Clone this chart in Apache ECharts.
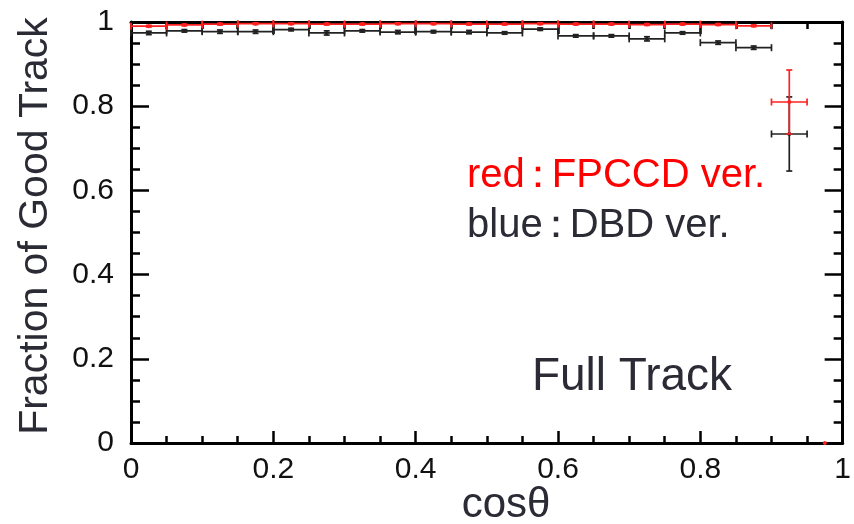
<!DOCTYPE html>
<html>
<head>
<meta charset="utf-8">
<script src="https://cdn.jsdelivr.net/npm/echarts@6/dist/echarts.min.js"></script>
<style>
html,body{margin:0;padding:0;background:#fff;}
#chart{width:854px;height:524px;}
</style>
</head>
<body>
<div id="chart"></div>
<script>
// Bin edges in cos(theta)
const binEdges = [0,0.05,0.10,0.15,0.20,0.25,0.30,0.35,0.40,0.45,0.50,0.55,0.60,0.65,0.70,0.75,0.80,0.85,0.90,0.95,1.00];
// red : FPCCD ver.
const redValues = [0.990,0.993,0.995,0.996,0.996,0.995,0.995,0.996,0.996,0.995,0.995,0.996,0.995,0.995,0.994,0.995,0.994,0.991,0.810,0.0];
const redErrors = [0.002,0.002,0.002,0.002,0.002,0.002,0.002,0.002,0.002,0.002,0.002,0.002,0.002,0.002,0.002,0.002,0.002,0.002,0.076,0.0];
// blue (drawn dark) : DBD ver.
const blackValues = [0.974,0.979,0.977,0.977,0.982,0.974,0.979,0.976,0.977,0.976,0.974,0.983,0.967,0.967,0.960,0.974,0.951,0.939,0.734,null];
const blackErrors = [0.004,0.003,0.004,0.004,0.003,0.005,0.003,0.004,0.003,0.004,0.003,0.003,0.003,0.003,0.005,0.003,0.004,0.004,0.088,null];
const xTickLabels = ['0','0.2','0.4','0.6','0.8','1'];
const yTickLabels = ['0','0.2','0.4','0.6','0.8','1'];

function buildData(vals, errs){
  const out = [];
  for (let i = 0; i < vals.length; i++) {
    if (vals[i] === null) continue;
    out.push([binEdges[i], binEdges[i+1], vals[i], errs[i]]);
  }
  return out;
}

function makeRender(color){
  return function(params, api){
    const x0 = api.value(0), x1 = api.value(1), y = api.value(2), e = api.value(3);
    const xc = (x0 + x1) / 2;
    const p0 = api.coord([x0, y]), p1 = api.coord([x1, y]), pc = api.coord([xc, y]);
    const style = {stroke: color, lineWidth: 1.7};
    const children = [];
    if (y !== 0) {
      children.push({type:'line', shape:{x1:p0[0], y1:p0[1], x2:p1[0], y2:p1[1]}, style});
      children.push({type:'line', shape:{x1:p0[0], y1:p0[1]-3.5, x2:p0[0], y2:p0[1]+3.5}, style});
      children.push({type:'line', shape:{x1:p1[0], y1:p1[1]-3.5, x2:p1[0], y2:p1[1]+3.5}, style});
      const pt = api.coord([xc, y + e]), pb = api.coord([xc, y - e]);
      children.push({type:'line', shape:{x1:pt[0], y1:pt[1], x2:pb[0], y2:pb[1]}, style});
      children.push({type:'line', shape:{x1:pt[0]-3, y1:pt[1], x2:pt[0]+3, y2:pt[1]}, style});
      children.push({type:'line', shape:{x1:pb[0]-3, y1:pb[1], x2:pb[0]+3, y2:pb[1]}, style});
    }
    children.push({type:'circle', shape:{cx:pc[0], cy:pc[1], r:2}, style:{fill: color}});
    return {type:'group', children};
  };
}

const FONT = 'Liberation Sans, Arial, sans-serif';
const axisFont = {fontFamily:FONT, fontSize:30, color:'#111'};
function axis(pos, interval, tickLen, withLine, labelFormatter, margin){
  return {
    type:'value', min:0, max:1, interval:interval, position:pos,
    axisLine: {show:withLine, onZero:false, lineStyle:{color:'#000', width:3}},
    axisTick:{show:true, inside:true, length:tickLen, lineStyle:{color:'#000', width:2.5}},
    minorTick:{show:false},
    splitLine:{show:false},
    axisLabel: labelFormatter ? Object.assign({show:true, margin:margin, formatter:labelFormatter}, axisFont) : {show:false}
  };
}

const chart = echarts.init(document.getElementById('chart'), null, {renderer:'canvas'});
const option = {
  animation:false,
  backgroundColor:'#fff',
  grid:{left:131, right:6, top:22, bottom:81},
  xAxis:[
    axis('bottom',0.2,12,true,(v,i)=>xTickLabels[i],12),
    axis('bottom',0.05,7,false,null),
    axis('top',0.2,12,true,null),
    axis('top',0.05,7,false,null)
  ],
  yAxis:[
    axis('left',0.2,18,true,(v,i)=>yTickLabels[i],17),
    axis('left',0.05,9,false,null),
    axis('right',0.2,18,true,null),
    axis('right',0.05,9,false,null)
  ],
  series:[{
    type:'custom', name:'DBD ver.', xAxisIndex:0, yAxisIndex:0,
    renderItem:makeRender('#222'), data:buildData(blackValues, blackErrors), z:3
  },{
    type:'custom', name:'FPCCD ver.', xAxisIndex:0, yAxisIndex:0,
    renderItem:makeRender('#ff2020'), data:buildData(redValues, redErrors), z:4
  }],
  graphic:[
    {type:'text', x:36, y:226, rotation:Math.PI/2, style:{text:'Fraction of Good Track', fontFamily:FONT, fontSize:41, fill:'#2b2b35', textAlign:'center', textVerticalAlign:'middle'}},
    {type:'text', x:506, y:505, style:{text:'cosθ', fontFamily:FONT, fontSize:42, fill:'#2b2b35', textAlign:'center', textVerticalAlign:'middle'}},
    {type:'text', x:467, y:176, style:{text:'{a|red}{c|：}{a|FPCCD ver.}', textVerticalAlign:'middle', rich:{a:{fontFamily:FONT, fontSize:40, fill:'#ff0000'}, c:{fontFamily:FONT, fontSize:40, fill:'#ff0000', width:27, align:'center'}}}},
    {type:'text', x:467, y:226, style:{text:'{a|blue}{c|：}{a|DBD ver.}', textVerticalAlign:'middle', rich:{a:{fontFamily:FONT, fontSize:40, fill:'#2b2b35'}, c:{fontFamily:FONT, fontSize:40, fill:'#2b2b35', width:27, align:'center'}}}},
    {type:'text', x:632, y:377, style:{text:'Full Track', fontFamily:FONT, fontSize:46, fill:'#2b2b35', textAlign:'center', textVerticalAlign:'middle'}}
  ]
};
chart.setOption(option);
</script>
</body>
</html>
